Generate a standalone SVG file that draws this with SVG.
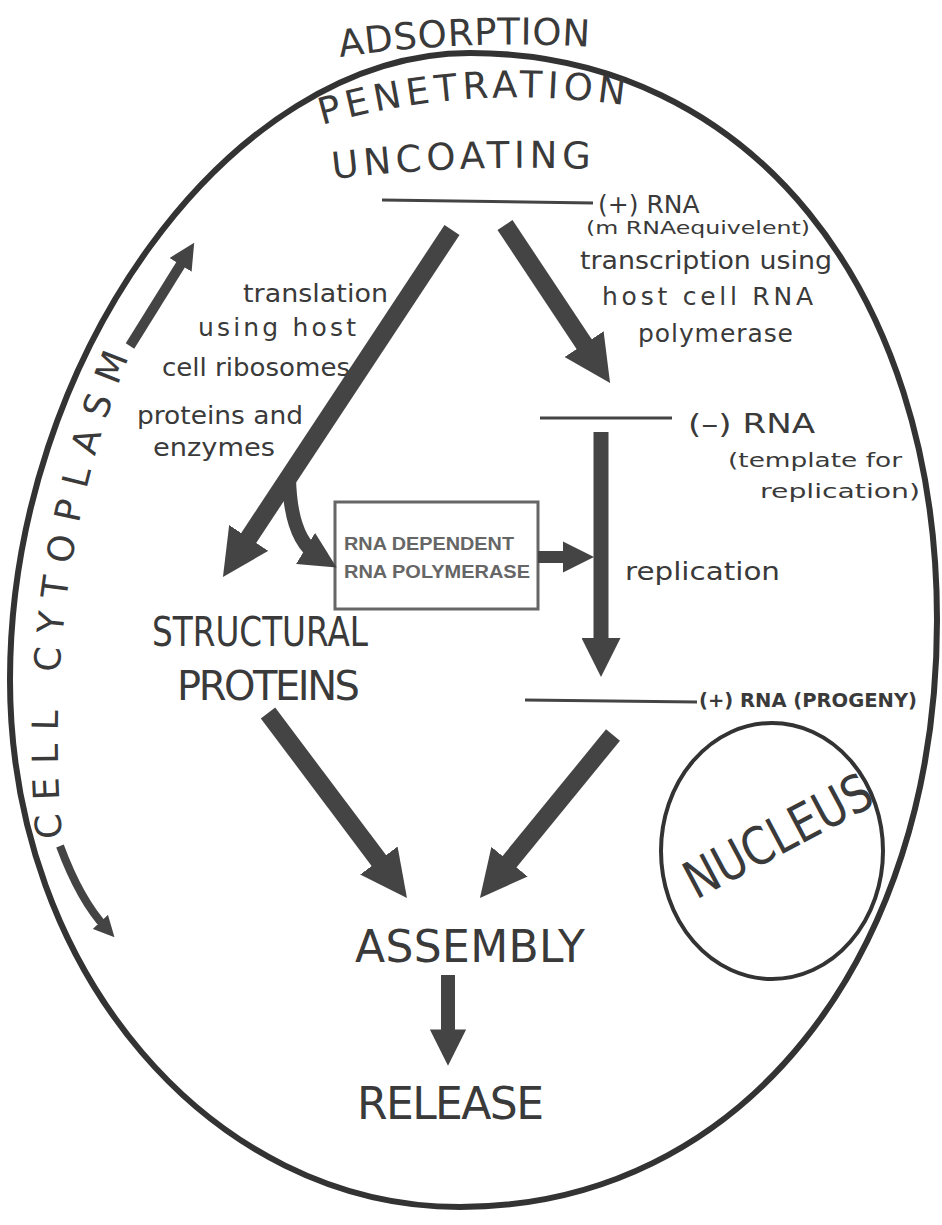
<svg xmlns="http://www.w3.org/2000/svg" width="942" height="1225" viewBox="0 0 942 1225">
<style>
.t{font-family:"DejaVu Sans","Liberation Sans",sans-serif;fill:#3a3a3a}
.cap{font-size:37px}
.lab{font-size:25px}
.sm{font-size:20px}
.box{font-family:"Liberation Sans",sans-serif;font-size:19px;font-weight:bold;fill:#666}
.arr{stroke:#444;fill:none;stroke-linecap:butt;marker-end:url(#ah)}
.thin{stroke:#444;stroke-width:3;fill:none}
</style>
<defs>
<marker id="ah" viewBox="0 0 10 10" refX="4" refY="5" markerWidth="2.6" markerHeight="2.6" orient="auto" markerUnits="strokeWidth"><path d="M0,0 L10,5 L0,10 z" fill="#444"/></marker>
<path id="pAds" d="M340,57 Q465,39 592,47"/>
<path id="pPen" d="M322,125 Q470,82 630,106"/>
<path id="pUnc" d="M333,179 Q460,164 592,169"/>
<path id="pCyto" d="M62,838 C50,700 60,520 132,350"/>
</defs>
<rect width="942" height="1225" fill="#fff"/>
<g id="cell">
<path d="M470,53 C750,53 937,290 937,620 C937,960 740,1207 460,1207 C212,1207 10,971 10,680 C10,360 230,53 470,53 Z" fill="none" stroke="#333" stroke-width="6"/>
</g>
<g id="cytoplasm">
<text class="t" font-size="36"><textPath href="#pCyto" textLength="490" lengthAdjust="spacing">CELL CYTOPLASM</textPath></text>
<path class="arr" stroke-width="10" d="M130,346 Q160,298 186,256"/>
<path class="arr" stroke-width="8" d="M60,846 Q80,900 106,928"/>
</g>
<g id="entry">
<text class="t cap"><textPath href="#pAds" textLength="250" lengthAdjust="spacing">ADSORPTION</textPath></text>
<text class="t cap"><textPath href="#pPen" textLength="305" lengthAdjust="spacing">PENETRATION</textPath></text>
<text class="t" font-size="37"><textPath href="#pUnc" textLength="258" lengthAdjust="spacing">UNCOATING</textPath></text>
</g>
<g id="plusRNA">
<path class="thin" d="M382,200 L593,203"/>
<text class="t lab" x="598" y="213">(+) RNA</text>
<text class="t" font-size="18" x="586" y="234" textLength="224" lengthAdjust="spacingAndGlyphs">(m RNAequivelent)</text>
</g>
<g id="transcription">
<text class="t lab" x="580" y="269" textLength="252" lengthAdjust="spacingAndGlyphs">transcription using</text>
<text class="t lab" x="602" y="305" textLength="211" lengthAdjust="spacing">host cell RNA</text>
<text class="t lab" x="638" y="342" textLength="155" lengthAdjust="spacing">polymerase</text>
</g>
<g id="translation">
<text class="t lab" x="243" y="302" textLength="145" lengthAdjust="spacingAndGlyphs">translation</text>
<text class="t lab" x="198" y="336" textLength="158" lengthAdjust="spacing">using host</text>
<text class="t lab" x="162" y="376" textLength="188" lengthAdjust="spacingAndGlyphs">cell ribosomes</text>
<text class="t lab" x="137" y="424" textLength="166" lengthAdjust="spacingAndGlyphs">proteins and</text>
<text class="t lab" x="153" y="456" textLength="122" lengthAdjust="spacingAndGlyphs">enzymes</text>
</g>
<g id="minusRNA">
<path class="thin" d="M540,418 L672,418"/>
<text class="t" font-size="27" x="688" y="433" textLength="127" lengthAdjust="spacingAndGlyphs">(–) RNA</text>
<text class="t sm" x="728" y="467" textLength="174" lengthAdjust="spacingAndGlyphs">(template for</text>
<text class="t sm" x="760" y="498" textLength="160" lengthAdjust="spacingAndGlyphs">replication)</text>
</g>
<g id="polymeraseBox">
<rect x="335" y="502" width="203" height="107" fill="none" stroke="#666" stroke-width="3"/>
<text class="box" x="344" y="550" textLength="170" lengthAdjust="spacingAndGlyphs">RNA DEPENDENT</text>
<text class="box" x="344" y="578" textLength="186" lengthAdjust="spacingAndGlyphs">RNA POLYMERASE</text>
</g>
<g id="replication">
<text class="t lab" x="625" y="580" textLength="155" lengthAdjust="spacingAndGlyphs">replication</text>
</g>
<g id="structural">
<text class="t" font-size="40" x="152" y="646" textLength="216" lengthAdjust="spacingAndGlyphs">STRUCTURAL</text>
<text class="t" font-size="40" x="177" y="700" textLength="183" lengthAdjust="spacing">PROTEINS</text>
</g>
<g id="progeny">
<path class="thin" d="M525,700 L697,702"/>
<text class="t" font-size="20" font-weight="bold" x="699" y="707" textLength="218" lengthAdjust="spacingAndGlyphs">(+) RNA (PROGENY)</text>
</g>
<g id="nucleus">
<ellipse cx="772" cy="851" rx="111" ry="128" fill="none" stroke="#333" stroke-width="4"/>
<text class="t" font-size="52" x="0" y="0" transform="translate(696,900) rotate(-28)" textLength="205" lengthAdjust="spacingAndGlyphs">NUCLEUS</text>
</g>
<g id="assembly">
<text class="t" font-size="44" x="355" y="962" textLength="230" lengthAdjust="spacing">ASSEMBLY</text>
</g>
<g id="release">
<text class="t" font-size="44" x="357" y="1119" textLength="187" lengthAdjust="spacing">RELEASE</text>
</g>
<g id="connectors">
<path class="arr" stroke-width="18" d="M452,230 L238.4,553.6"/>
<path class="arr" stroke-width="18" d="M505,225 L594.5,359.7"/>
<path class="arr" stroke-width="14" d="M289,478 C290,520 300,545 318,556"/>
<path class="arr" stroke-width="15" d="M601,432 L601,653.6"/>
<path class="arr" stroke-width="12" d="M538,557 L575.3,557"/>
<path class="arr" stroke-width="18" d="M268,713 L390.1,875.5"/>
<path class="arr" stroke-width="18" d="M613,735 L497.7,876.2"/>
<path class="arr" stroke-width="14" d="M448,975 L448,1044"/>
</g>
</svg>
